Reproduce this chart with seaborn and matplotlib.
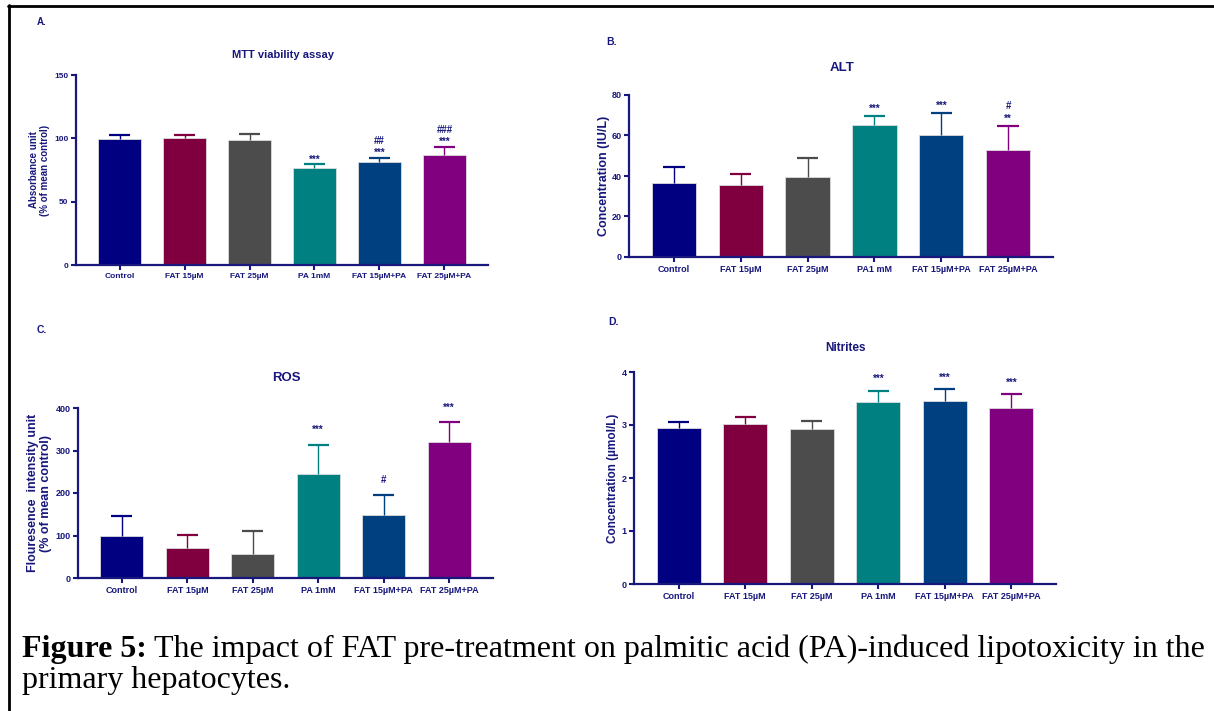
import matplotlib
matplotlib.use("Agg")
import matplotlib.pyplot as plt
import seaborn as sns
import pandas as pd
from matplotlib.lines import Line2D

W, H = 1214, 711

# Data (mean and upper error bar length)
groups = ["Control", "FAT 15µM", "FAT 25µM", "PA 1mM", "FAT 15µM+PA", "FAT 25µM+PA"]
groups_alt = ["Control", "FAT 15µM", "FAT 25µM", "PA1 mM", "FAT 15µM+PA", "FAT 25µM+PA"]
colors = ["#000080", "#80003f", "#4c4c4c", "#008080", "#003f80", "#80007f"]

mtt_mean = [99.5, 100.2, 98.6, 76.8, 81.2, 86.8]
mtt_err = [3.1, 2.6, 5.1, 2.6, 3.1, 6.6]
alt_mean = [36.6, 35.5, 39.4, 65.2, 60.2, 52.8]
alt_err = [7.9, 5.6, 9.4, 4.6, 10.8, 12.1]
ros_mean = [99.6, 70.6, 57.0, 245.5, 149.0, 320.8]
ros_err = [45.5, 30.5, 53.5, 67.5, 46.0, 46.0]
nit_mean = [2.95, 3.01, 2.93, 3.44, 3.46, 3.33]
nit_err = [0.10, 0.15, 0.15, 0.21, 0.22, 0.26]

sig_mtt = ["", "", "", "***", "##\n***", "###\n***"]
sig_alt = ["", "", "", "***", "***", "#\n**"]
sig_ros = ["", "", "", "***", "#", "***"]
sig_nit = ["", "", "", "***", "***", "***"]

NAVY = "#17177c"

sns.set_style("ticks")
plt.rcParams["font.family"] = ["Liberation Sans", "DejaVu Sans"]
plt.rcParams["font.weight"] = "bold"

fig = plt.figure(figsize=(W / 100, H / 100), dpi=100)


def px_rect(left, right, top, bottom):
    return [left / W, 1 - bottom / H, (right - left) / W, (bottom - top) / H]


def panel(rect, cats, mean, err, sig, ymax, yticks, ylabel, lab_x, sig_off,
          ylab_size, tick_size):
    ax = fig.add_axes(rect)
    df = pd.DataFrame({"group": cats, "value": mean})
    sns.barplot(data=df, x="group", y="value", hue="group", palette=colors,
                order=cats, hue_order=cats, legend=False, errorbar=None,
                saturation=1, width=0.66, edgecolor="#dcdcdc", linewidth=0.6,
                ax=ax)
    for i, (m, e) in enumerate(zip(mean, err)):
        # SEM bar, upper half only
        ax.vlines(i, m, m + e, color=colors[i], lw=1.0, zorder=1)
        ax.hlines(m + e, i - 0.16, i + 0.16, color=colors[i], lw=1.6, zorder=1)
        if sig[i]:
            ax.annotate(sig[i], xy=(i, m + e), xytext=(0, sig_off),
                        textcoords="offset points", ha="center", va="bottom",
                        fontsize=7, fontweight="bold", color=NAVY,
                        linespacing=1.25, annotation_clip=False)
    ax.set_xlim(-0.67, len(cats) - 1 + 0.67)
    ax.set_ylim(0, ymax)
    ax.set_yticks(yticks)
    ax.set_xlabel("")
    ax.set_ylabel(ylabel, color=NAVY, fontsize=ylab_size, fontweight="bold",
                  linespacing=1.1)
    ax.yaxis.set_label_coords(lab_x, 0.5)
    sns.despine(ax=ax)
    for s in ["left", "bottom"]:
        ax.spines[s].set_color(NAVY)
        ax.spines[s].set_linewidth(1.6)
    ax.tick_params(colors=NAVY, width=1.5, length=3.5, pad=2,
                   labelsize=tick_size)
    for t in ax.get_xticklabels() + ax.get_yticklabels():
        t.set_color(NAVY)
        t.set_fontweight("bold")
    return ax


panel(px_rect(76, 488, 75, 265), groups, mtt_mean, mtt_err, sig_mtt, 150,
      [0, 50, 100, 150], "Absorbance unit\n(% of mean control)", -0.063, 0,
      7, 6)
panel(px_rect(629, 1053, 95, 257), groups_alt, alt_mean, alt_err, sig_alt, 80,
      [0, 20, 40, 60, 80], "Concentration (IU/L)", -0.045, 1.5, 9, 6.5)
panel(px_rect(78, 493, 408, 578), groups, ros_mean, ros_err, sig_ros, 400,
      [0, 100, 200, 300, 400], "Flouresence  intensity unit\n(% of mean control)",
      -0.063, 7, 9, 6.5)
panel(px_rect(634, 1056, 372, 584), groups, nit_mean, nit_err, sig_nit, 4,
      [0, 1, 2, 3, 4], "Concentration (µmol/L)", -0.036, 4.5, 8.5, 6.5)


def ftext(x, y, s, **kw):
    return fig.text(x / W, 1 - y / H, s, **kw)


# titles and panel letters
ftext(283, 55, "MTT viability assay", ha="center", va="center", fontsize=8, color=NAVY)
ftext(842, 68, "ALT", ha="center", va="center", fontsize=9.5, color=NAVY)
ftext(286, 378, "ROS", ha="center", va="center", fontsize=9.5, color=NAVY)
ftext(845, 348, "Nitrites", ha="center", va="center", fontsize=8.5, color=NAVY)
ftext(37, 22, "A.", ha="left", va="center", fontsize=7, color=NAVY)
ftext(606, 42, "B.", ha="left", va="center", fontsize=7.5, color=NAVY)
ftext(37, 330, "C.", ha="left", va="center", fontsize=7.5, color=NAVY)
ftext(608, 322, "D.", ha="left", va="center", fontsize=7.5, color=NAVY)

# caption
serif = ["Liberation Serif", "DejaVu Serif"]
cap = ftext(22, 657, "Figure 5:", ha="left", va="baseline", fontsize=23,
            fontweight="bold", family=serif, color="black")
fig.canvas.draw()
bb = cap.get_window_extent(renderer=fig.canvas.get_renderer())
fig.text((bb.x1 + 7) / W, 1 - 657 / H,
         "The impact of FAT pre-treatment on palmitic acid (PA)-induced lipotoxicity in the",
         ha="left", va="baseline", fontsize=23, fontweight="normal", family=serif,
         color="black")
ftext(22, 688, "primary hepatocytes.", ha="left", va="baseline", fontsize=23,
      fontweight="normal", family=serif, color="black")

# frame lines (top and left)
fig.add_artist(Line2D([8 / W, 1], [1 - 5.5 / H, 1 - 5.5 / H], color="black",
                      lw=2, transform=fig.transFigure))
fig.add_artist(Line2D([8.5 / W, 8.5 / W], [0, 1 - 5 / H], color="black",
                      lw=2, transform=fig.transFigure))

fig.savefig("out.png", dpi=100)
